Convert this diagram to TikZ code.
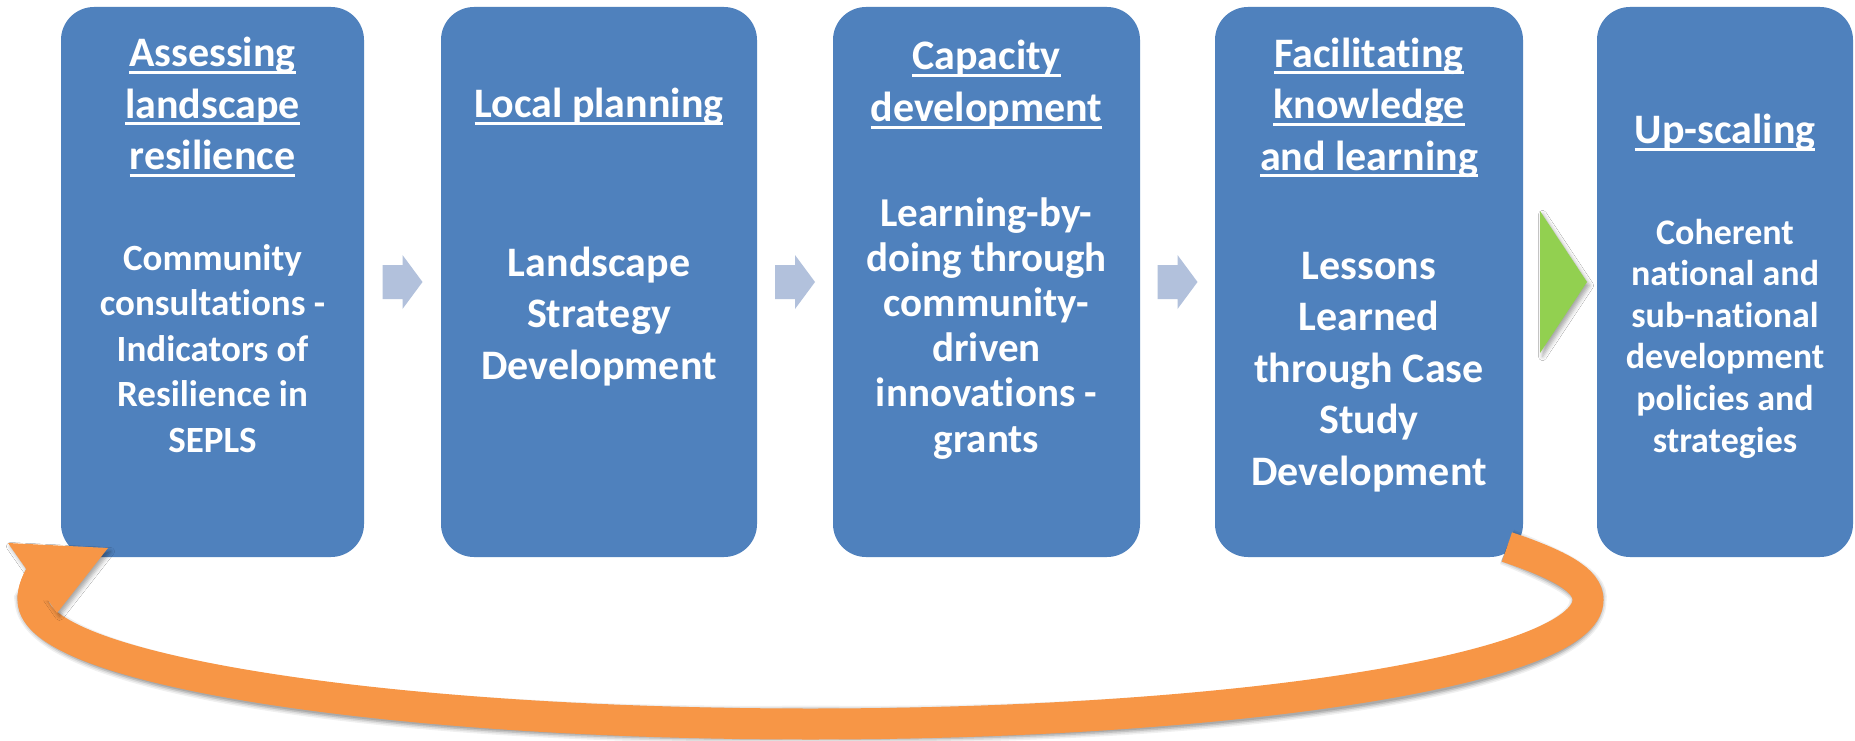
\documentclass[tikz,border=0pt]{standalone}
\usepackage{fontspec}
\setmainfont{Carlito}[Ligatures=NoCommon]
\usetikzlibrary{calc,shadows.blur}
\definecolor{boxblue}{HTML}{4F81BD}
\definecolor{lightarrow}{RGB}{178,193,220}
\definecolor{arrgreen}{HTML}{92D050}
\definecolor{arrorange}{HTML}{F79646}
\newcommand\hul[1]{\setbox0\hbox{#1}\rlap{\rule[-6.6pt]{\wd0}{3pt}}\box0}
\newcommand\tblock[3]{\fontsize{#1}{#2}\selectfont\begin{tabular}[t]{@{}c@{}}#3\end{tabular}}
\tikzset{
  stagebox/.style={fill=boxblue, draw=none, rounded corners=33pt, minimum height=550pt, inner sep=0pt},
  txt/.style={text=white, font=\bfseries, inner sep=0pt, anchor=base},
  flowarrow/.pic={\fill[lightarrow] (-20,-17) -- (0,-17) -- (0,-27) -- (20,0) -- (0,27) -- (0,17) -- (-20,17) -- cycle;},
  softshadow/.style={blur shadow={shadow xshift=2.5pt, shadow yshift=-3.5pt, shadow blur radius=4pt, shadow opacity=35}},
}
\begin{document}
\begin{tikzpicture}[x=1pt,y=-1pt]
\useasboundingbox (0,0) rectangle (1855,741);
\fill[white] (0,0) rectangle (1855,741);

% boxes
\node[stagebox, minimum width=303pt] (b1) at (212.5,282) {};
\node[stagebox, minimum width=316pt] (b2) at (599,282) {};
\node[stagebox, minimum width=307pt] (b3) at (986.5,282) {};
\node[stagebox, minimum width=308pt] (b4) at (1369,282) {};
\node[stagebox, minimum width=256pt] (b5) at (1725,282) {};

% small flow arrows
\coordinate (a12) at ($(b1.east)!0.5!(b2.west)$);
\coordinate (a23) at ($(b2.east)!0.5!(b3.west)$);
\coordinate (a34) at ($(b3.east)!0.5!(b4.west)$);
\pic at (a12) {flowarrow};
\pic at (a23) {flowarrow};
\pic at (a34) {flowarrow};

% green arrow
\coordinate (g45) at ($(b4.east)!0.5!(b5.west)$);
\fill[arrgreen, softshadow] (g45) ++(-20,-71) -- ++(47,71) -- ++(-47,71) -- cycle;

% orange return arrow
\coordinate (oStart) at (1507,547);
\coordinate (oRight) at (1588,600);
\coordinate (oBottom) at (810.5,724);
\coordinate (oLeft) at (33,600);
\coordinate (oEnd) at (44,570);
\foreach \w/\o in {37/0.06,34/0.08,31/0.12,28/0.12}{
\begin{scope}[shift={(3,5)}]
\draw[line width=\w pt, black, opacity=\o] (oStart) .. controls (1560,565) and (1588,580) .. (oRight)
  .. controls (1588,668.5) and (1240,724) .. (oBottom)
  .. controls (381,724) and (33,668.5) .. (oLeft)
  .. controls (33,590) and (37,580) .. (oEnd);
\end{scope}}
\draw[line width=31pt, arrorange] (oStart) .. controls (1560,565) and (1588,580) .. (oRight)
  .. controls (1588,668.5) and (1240,724) .. (oBottom)
  .. controls (381,724) and (33,668.5) .. (oLeft)
  .. controls (33,590) and (37,580) .. (oEnd);
\fill[arrorange, softshadow] (8,543) -- (108,548) -- (57,613) -- cycle;
\draw[line width=31pt, arrorange] (oLeft) .. controls (33,590) and (37,580) .. (oEnd);

% texts
\node[txt] (t1h) at (212.5,67) {\tblock{42}{51.5}{\hul{Assessing}\\\hul{landscape}\\\hul{resilience}}};
\node[txt] (t1b) at (212.5,270) {\tblock{37}{45.5}{Community\\consultations -\\Indicators of\\Resilience in\\SEPLS}};

\node[txt] (t2h) at (599,118) {\tblock{42}{51.5}{\hul{Local planning}}};
\node[txt] (t2b) at (599,276) {\tblock{42}{51.5}{Landscape\\Strategy\\Development}};

\node[txt] (t3h) at (986.5,70) {\tblock{42}{52}{\hul{Capacity}\\\hul{development}}};
\node[txt] (t3b) at (986.5,226) {\tblock{41}{45.2}{Learning-by-\\doing through\\community-\\driven\\innovations -\\grants}};

\node[txt] (t4h) at (1369,67.5) {\tblock{42}{51.5}{\hul{Facilitating}\\\hul{knowledge}\\\hul{and learning}}};
\node[txt] (t4b) at (1369,279) {\tblock{42}{51.5}{Lessons\\Learned\\through Case\\Study\\Development}};

\node[txt] (t5h) at (1725,144) {\tblock{42}{51.5}{\hul{Up-scaling}}};
\node[txt] (t5b) at (1725,244) {\tblock{36}{41.6}{Coherent\\national and\\sub-national\\development\\policies and\\strategies}};
\end{tikzpicture}
\end{document}
